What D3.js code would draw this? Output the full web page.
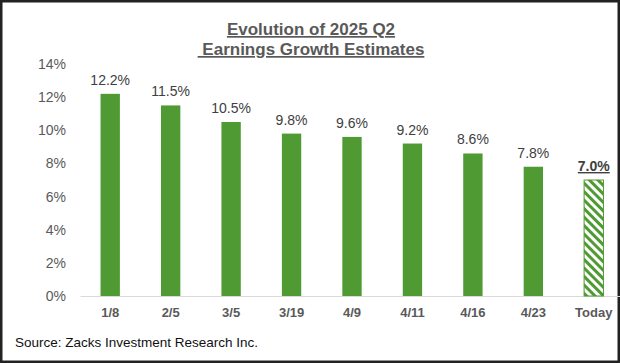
<!DOCTYPE html>
<html><head><meta charset="utf-8">
<script src="https://cdn.jsdelivr.net/npm/d3@7"></script>
<style>html,body{margin:0;padding:0;background:#fff;}svg{display:block;font-family:"Liberation Sans",Arial,sans-serif;}</style>
</head><body>
<svg id="c" width="620" height="363"></svg>
<script>
const categories = ["1/8","2/5","3/5","3/19","4/9","4/11","4/16","4/23","Today"];
const values = [12.2,11.5,10.5,9.8,9.6,9.2,8.6,7.8,7.0];
const yTicks = [0,2,4,6,8,10,12,14];
const titleLines = ["Evolution of 2025 Q2", "\u00a0Earnings Growth Estimates"];
const source = "Source: Zacks Investment Research Inc.";

const svg = d3.select("#c");
const green = "#4f9a32";
const defs = svg.append("defs");
const pat = defs.append("pattern").attr("id","hatch").attr("patternUnits","userSpaceOnUse")
  .attr("width",6).attr("height",6).attr("patternTransform","rotate(-45)");
pat.append("rect").attr("width",6).attr("height",6).attr("fill","#fff");
pat.append("rect").attr("x",0).attr("y",0).attr("width",3).attr("height",6).attr("fill",green);

// border
svg.append("rect").attr("x",1.25).attr("y",1.25).attr("width",617.5).attr("height",360.5)
  .attr("fill","none").attr("stroke","#222").attr("stroke-width",2.5);

const x = d3.scaleBand().domain(categories).range([80,624]).paddingInner(0.68).paddingOuter(0.34);
const y = d3.scaleLinear().domain([0,14]).range([296,64]);

// title
const t = svg.append("g");
titleLines.forEach((s,i)=>{
  t.append("text").attr("x",311).attr("y",35+i*20).attr("text-anchor","middle")
   .attr("font-size",17).attr("font-weight","bold").attr("fill","#595959")
   .attr("text-decoration","underline").style("white-space","pre").text(s);
});

// y axis labels
const ya = svg.append("g").attr("transform","translate(66,0)")
  .call(d3.axisLeft(y).tickValues(yTicks).tickFormat(d=>d+"%").tickSize(0).tickPadding(0));
ya.select(".domain").remove();
ya.selectAll("text").attr("font-size",14).attr("fill","#595959").attr("font-family","Liberation Sans, Arial, sans-serif");

// x axis
const xa = svg.append("g").attr("transform","translate(0,296)")
  .call(d3.axisBottom(x).tickSize(0).tickPadding(12));
xa.select(".domain").attr("stroke","#d9d9d9").attr("stroke-width",1);
xa.selectAll("text").attr("font-size",13).attr("font-weight","bold").attr("fill","#595959").attr("font-family","Liberation Sans, Arial, sans-serif");

// bars
const n = categories.length;
svg.append("g").selectAll("rect").data(values).join("rect")
  .attr("x",(d,i)=>x(categories[i])).attr("y",d=>y(d))
  .attr("width",x.bandwidth()).attr("height",d=>y(0)-y(d))
  .attr("fill",(d,i)=> i===n-1 ? "url(#hatch)" : green)
  .attr("stroke",(d,i)=> i===n-1 ? green : "none").attr("stroke-width",1);

// value labels
svg.append("g").selectAll("text").data(values).join("text")
  .attr("x",(d,i)=>x(categories[i])+x.bandwidth()/2).attr("y",d=>y(d)-9)
  .attr("text-anchor","middle").attr("font-size",14)
  .attr("fill","#404040")
  .attr("font-weight",(d,i)=> i===n-1 ? "bold" : "normal")
  .attr("text-decoration",(d,i)=> i===n-1 ? "underline" : "none")
  .text(d=>d.toFixed(1)+"%");

svg.append("text").attr("x",15).attr("y",347).attr("font-size",13.5).attr("fill","#111").text(source);
</script>
</body></html>
